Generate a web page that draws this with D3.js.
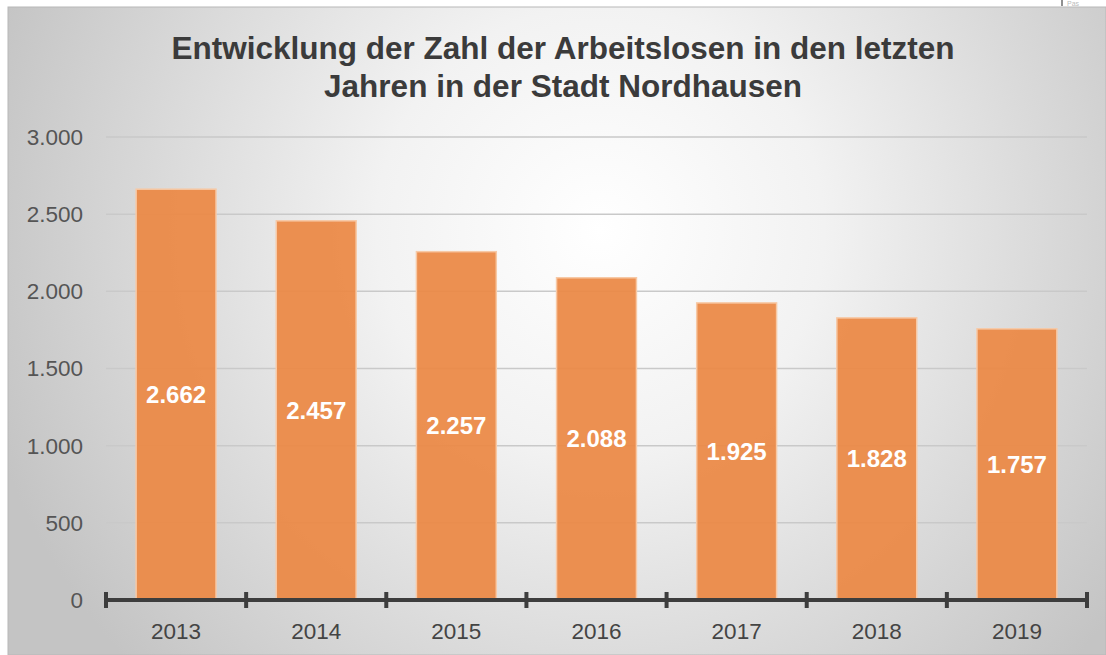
<!DOCTYPE html>
<html>
<head>
<meta charset="utf-8">
<script src="https://cdn.jsdelivr.net/npm/d3@7"></script>
<style>
  body { margin: 0; background: #fff; }
  svg { display: block; font-family: "Liberation Sans", Arial, sans-serif; }
</style>
</head>
<body>
<script>
var years = ["2013", "2014", "2015", "2016", "2017", "2018", "2019"];
var arbeitslose = [2662, 2457, 2257, 2088, 1925, 1828, 1757];
var yTicks = [0, 500, 1000, 1500, 2000, 2500, 3000];
var titleLines = ["Entwicklung der Zahl der Arbeitslosen in den letzten",
                  "Jahren in der Stadt Nordhausen"];

var W = 1106, H = 655;
var plot = { left: 106, right: 1087, top: 137, bottom: 600 };

var fmt = function(v) { return d3.format(",")(v).replace(/,/g, "."); };

var svg = d3.select("body").append("svg")
  .attr("width", W)
  .attr("height", H);

var defs = svg.append("defs");
var grad = defs.append("radialGradient")
  .attr("id", "bg")
  .attr("gradientUnits", "userSpaceOnUse")
  .attr("cx", 600).attr("cy", 230).attr("r", 640);
grad.append("stop").attr("offset", "0%").attr("stop-color", "#ffffff");
grad.append("stop").attr("offset", "35%").attr("stop-color", "#f2f2f2");
grad.append("stop").attr("offset", "100%").attr("stop-color", "#c4c4c4");

// cut-off bit of page at the top right
svg.append("line")
  .attr("x1", 1062).attr("x2", 1062).attr("y1", 0).attr("y2", 6)
  .attr("stroke", "#222").attr("stroke-width", 1);
svg.append("text")
  .attr("x", 1067).attr("y", 6)
  .attr("font-size", 7).attr("fill", "#bbb")
  .text("Pas");

svg.append("rect")
  .attr("x", 8).attr("y", 7)
  .attr("width", W - 8).attr("height", H - 7)
  .attr("fill", "url(#bg)")
  .attr("stroke", "#b8b8b8").attr("stroke-width", 1);

var title = svg.append("text")
  .attr("text-anchor", "middle")
  .attr("font-weight", "bold")
  .attr("font-size", 31.5)
  .attr("fill", "#3b3b3b");
title.selectAll("tspan")
  .data(titleLines)
  .enter().append("tspan")
  .attr("x", 563)
  .attr("y", function(d, i) { return 59 + i * 38; })
  .text(function(d) { return d; });

var x = d3.scaleBand()
  .domain(years)
  .range([plot.left, plot.right])
  .paddingInner(0.43)
  .paddingOuter(0.215);

var xTicks = d3.scaleBand().domain(years).range([plot.left, plot.right]);

var y = d3.scaleLinear()
  .domain([0, 3000])
  .range([plot.bottom, plot.top]);

// gridlines
svg.append("g")
  .selectAll("line")
  .data(yTicks.filter(function(d) { return d > 0; }))
  .enter().append("line")
  .attr("x1", plot.left).attr("x2", plot.right)
  .attr("y1", function(d) { return y(d); })
  .attr("y2", function(d) { return y(d); })
  .attr("stroke", "#c9c9c9").attr("stroke-width", 1.5);

// y labels
svg.append("g")
  .selectAll("text")
  .data(yTicks)
  .enter().append("text")
  .attr("x", 83)
  .attr("y", function(d) { return y(d); })
  .attr("dy", "0.35em")
  .attr("text-anchor", "end")
  .attr("font-size", 22.5)
  .attr("fill", "#555")
  .text(fmt);

// bars
svg.append("g")
  .selectAll("rect")
  .data(arbeitslose)
  .enter().append("rect")
  .attr("x", function(d, i) { return x(years[i]); })
  .attr("y", function(d) { return y(d); })
  .attr("width", x.bandwidth())
  .attr("height", function(d) { return y(0) - y(d); })
  .attr("fill", "#eb8a48")
  .attr("fill-opacity", 0.95)
  .attr("stroke", "#f7c9a6").attr("stroke-width", 1.5);

// value labels
svg.append("g")
  .selectAll("text")
  .data(arbeitslose)
  .enter().append("text")
  .attr("x", function(d, i) { return x(years[i]) + x.bandwidth() / 2; })
  .attr("y", function(d) { return (y(d) + y(0)) / 2; })
  .attr("dy", "0.35em")
  .attr("text-anchor", "middle")
  .attr("font-weight", "bold")
  .attr("font-size", 24)
  .attr("fill", "#fff")
  .text(fmt);

// x axis
var xAxis = svg.append("g");
xAxis.append("line")
  .attr("x1", plot.left).attr("x2", plot.right)
  .attr("y1", plot.bottom).attr("y2", plot.bottom)
  .attr("stroke", "#3d3d3d").attr("stroke-width", 4);
var tickPos = years.map(function(d) { return xTicks(d); }).concat([plot.right]);
xAxis.selectAll("line.tick")
  .data(tickPos)
  .enter().append("line")
  .attr("class", "tick")
  .attr("x1", function(d) { return d; }).attr("x2", function(d) { return d; })
  .attr("y1", plot.bottom - 8).attr("y2", plot.bottom + 8)
  .attr("stroke", "#3d3d3d").attr("stroke-width", 4);
xAxis.selectAll("text")
  .data(years)
  .enter().append("text")
  .attr("x", function(d) { return xTicks(d) + xTicks.bandwidth() / 2; })
  .attr("y", 631)
  .attr("dy", "0.35em")
  .attr("text-anchor", "middle")
  .attr("font-size", 22.5)
  .attr("fill", "#444")
  .text(function(d) { return d; });
</script>
</body>
</html>
